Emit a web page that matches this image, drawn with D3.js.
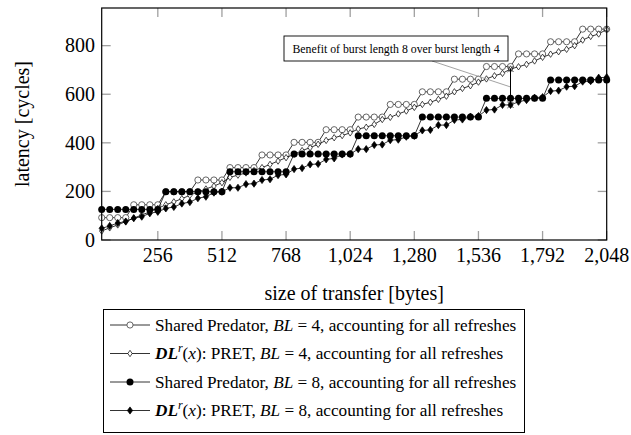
<!DOCTYPE html>
<html>
<head>
<meta charset="utf-8">
<script src="https://cdn.jsdelivr.net/npm/d3@7/dist/d3.min.js"></script>
<style>
  body { margin: 0; background: #fff; }
  svg { display: block; font-family: "Liberation Serif", "DejaVu Serif", serif; }
</style>
</head>
<body>
<div id="chart"></div>
<script>
// transfer sizes in bytes, 32 .. 2048
const sizes = d3.range(1, 65).map(k => k * 32);

// Shared Predator, BL = 4 (one level per 4 points)
const predBL4Levels = [92, 145, 199, 247, 298, 350, 402, 454, 506, 558, 610, 662, 714, 766, 816, 868];
// Shared Predator, BL = 8 (one level per 8 points)
const predBL8Levels = [126, 199, 281, 354, 429, 506, 583, 659];

// DL^r(x): PRET, BL = 4
const pretBL4 = [
  37, 50, 62, 76, 90, 103, 116, 130, 145, 157, 170, 184, 198, 210, 222, 236,
  258, 267, 276, 286, 298, 311, 325, 339, 353, 368, 380, 394, 410, 421, 430, 441,
  457, 464, 476, 496, 505, 519, 531, 546, 558, 567, 579, 592, 610, 624, 635, 650,
  663, 676, 686, 704, 713, 723, 737, 752, 765, 775, 785, 800, 823, 838, 848, 867
];
// DL^r(x): PRET, BL = 8
const pretBL8 = [
  48, 58, 70, 76, 90, 96, 110, 116, 130, 136, 150, 156, 172, 178, 195, 199,
  215, 215, 230, 232, 247, 250, 267, 270, 292, 296, 311, 313, 332, 336, 352, 354,
  374, 374, 391, 393, 411, 413, 425, 429, 451, 453, 473, 473, 494, 496, 508, 510,
  535, 537, 556, 556, 569, 576, 586, 588, 613, 615, 631, 633, 652, 654, 668, 670
];

const xTicks = [256, 512, 768, 1024, 1280, 1536, 1792, 2048];
const yTicks = [0, 200, 400, 600, 800];
const noteAt = 1664; // x where the BL8 vs BL4 benefit is marked
const noteText = "Benefit of burst length 8 over burst length 4";

const predBL4 = sizes.map((s, i) => predBL4Levels[Math.floor(i / 4)]);
const predBL8 = sizes.map((s, i) => predBL8Levels[Math.floor(i / 8)]);

const series = [
  { label: "pred4", values: predBL4, mark: "ocircle" },
  { label: "pret4", values: pretBL4, mark: "odiamond" },
  { label: "pred8", values: predBL8, mark: "fcircle" },
  { label: "pret8", values: pretBL8, mark: "fdiamond" }
];

const width = 631, height = 435;
const plot = { left: 101.7, right: 606.7, top: 8, bottom: 240 };

const x = d3.scaleLinear().domain([32, 2048]).range([plot.left, plot.right]);
const y = d3.scaleLinear().domain([0, 955]).range([plot.bottom, plot.top]);

const svg = d3.select("#chart").append("svg")
  .attr("width", width).attr("height", height);

// draw one marker of the given kind at (cx, cy)
function drawMark(g, kind, cx, cy) {
  if (kind === "ocircle") {
    g.append("circle").attr("cx", cx).attr("cy", cy).attr("r", 3.1)
      .attr("fill", "#fff").attr("stroke", "#555").attr("stroke-width", 0.9);
  } else if (kind === "fcircle") {
    g.append("circle").attr("cx", cx).attr("cy", cy).attr("r", 3.5).attr("fill", "#000");
  } else {
    const w = kind === "odiamond" ? 2.2 : 2.6, h = kind === "odiamond" ? 3.2 : 3.6;
    g.append("path")
      .attr("d", `M${cx},${cy - h}L${cx + w},${cy}L${cx},${cy + h}L${cx - w},${cy}Z`)
      .attr("fill", kind === "odiamond" ? "#fff" : "#000")
      .attr("stroke", "#000").attr("stroke-width", 0.7);
  }
}

// ticks (inside, on all four sides)
const tickLen = 9;
const grid = svg.append("g").attr("stroke", "#a0a0a0").attr("stroke-width", 1.3);
xTicks.forEach(t => {
  grid.append("line").attr("x1", x(t)).attr("x2", x(t)).attr("y1", plot.bottom).attr("y2", plot.bottom - tickLen);
  grid.append("line").attr("x1", x(t)).attr("x2", x(t)).attr("y1", plot.top).attr("y2", plot.top + tickLen);
});
yTicks.forEach(t => {
  grid.append("line").attr("x1", plot.left).attr("x2", plot.left + tickLen).attr("y1", y(t)).attr("y2", y(t));
  grid.append("line").attr("x1", plot.right).attr("x2", plot.right - tickLen).attr("y1", y(t)).attr("y2", y(t));
});

// series
const line = d3.line().x(d => x(d[0])).y(d => y(d[1]));
series.forEach(s => {
  const pts = sizes.map((sz, i) => [sz, s.values[i]]);
  const g = svg.append("g");
  g.append("path").datum(pts).attr("d", line)
    .attr("fill", "none").attr("stroke", "#000").attr("stroke-width", 0.8);
  pts.forEach(p => drawMark(g, s.mark, x(p[0]), y(p[1])));
});

// annotation: vertical bar between the two PRET curves
const ni = sizes.indexOf(noteAt);
const topV = pretBL4[ni], botV = pretBL8[ni];
const ann = svg.append("g");
const midY = (y(topV) + y(botV)) / 2;
ann.append("line").attr("x1", 432).attr("y1", 61).attr("x2", x(noteAt)).attr("y2", midY)
  .attr("stroke", "#999").attr("stroke-width", 0.9);
ann.append("line").attr("x1", x(noteAt)).attr("x2", x(noteAt)).attr("y1", y(topV)).attr("y2", y(botV))
  .attr("stroke", "#000").attr("stroke-width", 1);
[topV, botV].forEach(v => {
  const cx = x(noteAt), cy = y(v), r = 3;
  ann.append("path").attr("d", `M${cx - r},${cy - r}L${cx + r},${cy + r}M${cx - r},${cy + r}L${cx + r},${cy - r}`)
    .attr("stroke", "#000").attr("stroke-width", 0.8);
});
ann.append("rect").attr("x", 284).attr("y", 36).attr("width", 224).attr("height", 25)
  .attr("fill", "#fff").attr("stroke", "#000").attr("stroke-width", 0.9);
ann.append("text").attr("x", 396).attr("y", 52.5).attr("text-anchor", "middle")
  .attr("font-size", 11.8).text(noteText);

// frame
svg.append("rect")
  .attr("x", plot.left).attr("y", plot.top)
  .attr("width", plot.right - plot.left).attr("height", plot.bottom - plot.top)
  .attr("fill", "none").attr("stroke", "#000").attr("stroke-width", 1.2);

// tick labels
svg.append("g").selectAll("text").data(xTicks).join("text")
  .attr("x", d => x(d)).attr("y", 262).attr("text-anchor", "middle")
  .attr("font-size", 20).text(d => d3.format(",")(d));
svg.append("g").selectAll("text").data(yTicks).join("text")
  .attr("x", 95).attr("y", d => y(d) + 6.7).attr("text-anchor", "end")
  .attr("font-size", 20).text(d => d);

// axis titles
svg.append("text").attr("x", (plot.left + plot.right) / 2).attr("y", 300)
  .attr("text-anchor", "middle").attr("font-size", 20).text("size of transfer [bytes]");
svg.append("text").attr("transform", `translate(28.5,${(plot.top + plot.bottom) / 2}) rotate(-90)`)
  .attr("text-anchor", "middle").attr("font-size", 20).text("latency [cycles]");

// legend
const leg = svg.append("g");
leg.append("rect").attr("x", 103.5).attr("y", 309.5).attr("width", 421).attr("height", 123)
  .attr("fill", "#fff").attr("stroke", "#000").attr("stroke-width", 1);
const rowY = [325, 353.5, 382, 410.5];
series.forEach((s, i) => {
  const cy = rowY[i];
  leg.append("line").attr("x1", 110).attr("x2", 150).attr("y1", cy).attr("y2", cy)
    .attr("stroke", "#000").attr("stroke-width", 0.8);
  drawMark(leg, s.mark, 130, cy);
  const t = leg.append("text").attr("x", 155).attr("y", cy + 5.8).attr("font-size", 17.2);
  const bl = i < 2 ? "4" : "8";
  if (i % 2 === 0) {
    t.append("tspan").text("Shared Predator, ");
  } else {
    t.append("tspan").attr("font-style", "italic").attr("font-weight", "bold").text("DL");
    t.append("tspan").attr("font-style", "italic").attr("font-size", 12).attr("dy", -7).text("r");
    t.append("tspan").attr("dy", 7).text("(");
    t.append("tspan").attr("font-style", "italic").text("x");
    t.append("tspan").text("): PRET, ");
  }
  t.append("tspan").attr("font-style", "italic").text("BL");
  t.append("tspan").text(" = " + bl + ", accounting for all refreshes");
});
</script>
</body>
</html>
